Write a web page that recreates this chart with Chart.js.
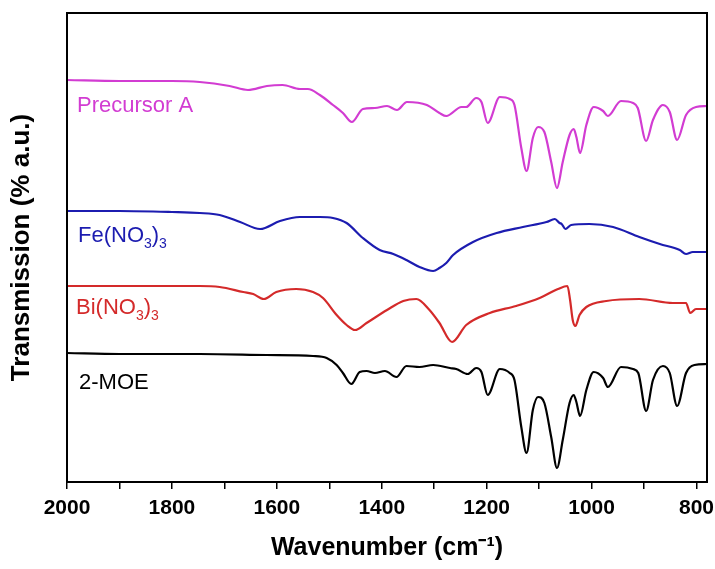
<!DOCTYPE html>
<html>
<head>
<meta charset="utf-8">
<script src="https://cdn.jsdelivr.net/npm/chart.js@4.4.1/dist/chart.umd.min.js"></script>
<style>
  body { margin: 0; background: #fff; }
  canvas { display: block; }
</style>
</head>
<body>
<canvas id="chart" width="715" height="569"></canvas>
<script>
// Wavenumbers (cm-1) and transmission (arbitrary units, offset per curve)
const precursorWn = [2000, 1900, 1800, 1747, 1690, 1655, 1619, 1589, 1556, 1541, 1518, 1493, 1474, 1457, 1436, 1413, 1390, 1371, 1352, 1314, 1290, 1277, 1248, 1239, 1220, 1210, 1198, 1175, 1156, 1147, 1134, 1124, 1112, 1102, 1090, 1077, 1066, 1055, 1042, 1034, 1029, 1022, 1010, 996, 978, 969, 944, 921, 912, 896, 883, 864, 851, 837, 820, 801, 780];
const precursorT = [402, 401, 401, 400, 396, 392, 396, 397, 393, 393, 387, 377, 369, 360, 373, 374, 376, 372, 380, 377, 369, 366, 375, 375, 384, 380, 359, 385, 383, 377, 334, 311, 344, 355, 350, 320, 294, 320, 347, 353, 345, 329, 357, 375, 371, 366, 381, 379, 374, 341, 362, 377, 370, 342, 367, 375, 376];

const feWn = [2000, 1900, 1800, 1747, 1709, 1670, 1632, 1594, 1556, 1518, 1493, 1467, 1436, 1404, 1378, 1353, 1328, 1302, 1290, 1277, 1264, 1226, 1181, 1131, 1086, 1070, 1061, 1057, 1050, 1039, 1004, 959, 909, 870, 832, 820, 807, 780];
const feT = [271, 271, 270, 269, 267, 260, 253, 261, 265, 265, 264, 259, 244, 232, 228, 222, 215, 211, 214, 219, 227, 240, 249, 255, 260, 263, 259, 258, 253, 257, 258, 255, 245, 238, 232, 228, 230, 230];

const biWn = [2000, 1900, 1800, 1747, 1709, 1664, 1645, 1625, 1601, 1563, 1531, 1512, 1486, 1467, 1451, 1429, 1390, 1359, 1334, 1309, 1290, 1266, 1239, 1194, 1144, 1099, 1064, 1046, 1041, 1036, 1031, 1023, 1010, 972, 909, 845, 820, 812, 801, 780];
const biT = [196, 196, 196, 196, 195, 190, 188, 183, 190, 193, 190, 184, 167, 157, 152, 159, 172, 181, 183, 172, 159, 140, 157, 169, 176, 184, 193, 196, 182, 162, 156, 167, 175, 181, 183, 179, 179, 169, 173, 173];

const moeWn = [2000, 1900, 1800, 1747, 1620, 1531, 1505, 1486, 1474, 1458, 1442, 1429, 1413, 1394, 1372, 1353, 1328, 1302, 1270, 1258, 1236, 1220, 1210, 1198, 1175, 1156, 1147, 1134, 1124, 1112, 1102, 1090, 1077, 1066, 1055, 1042, 1034, 1029, 1022, 1010, 996, 978, 969, 944, 921, 911, 896, 883, 864, 851, 837, 820, 804, 780];
const moeT = [129, 128, 128, 128, 127, 126, 124, 117, 109, 98, 110, 111, 109, 111, 105, 116, 115, 117, 114, 113, 108, 114, 110, 87, 113, 109, 102, 55, 29, 72, 85, 79, 45, 14, 42, 79, 87, 80, 66, 92, 110, 104, 95, 115, 113, 109, 71, 102, 116, 109, 76, 109, 117, 118];

const xTicks = [2000, 1800, 1600, 1400, 1200, 1000, 800];

const FONT = "'Liberation Sans', Arial, sans-serif";

function toPoints(wn, t) {
    return wn.map((w, i) => ({ x: w, y: t[i] }));
}

function series(label, wn, t, color) {
    return {
        label: label,
        data: toPoints(wn, t),
        borderColor: color,
        borderWidth: 2.2,
        pointRadius: 0,
        fill: false,
        tension: 0.4,
        cubicInterpolationMode: 'monotone'
    };
}

// box around the plot area
const framePlugin = {
    id: 'frame',
    afterDraw(chart) {
        const a = chart.chartArea;
        const ctx = chart.ctx;
        ctx.save();
        ctx.strokeStyle = '#000';
        ctx.lineWidth = 2;
        ctx.strokeRect(a.left, a.top, a.right - a.left, a.bottom - a.top);
        ctx.restore();
    }
};

// curve names with subscripts
const labelPlugin = {
    id: 'curveLabels',
    afterDatasetsDraw(chart) {
        const ctx = chart.ctx;
        const parts = [
            { x: 77, y: 112, color: '#d23cd2', bits: [['Precursor A', 0]] },
            { x: 78, y: 242, color: '#1c1cb0', bits: [['Fe(NO', 0], ['3', 1], [')', 0], ['3', 1]] },
            { x: 76, y: 314, color: '#d42a2a', bits: [['Bi(NO', 0], ['3', 1], [')', 0], ['3', 1]] },
            { x: 79, y: 389, color: '#000000', bits: [['2-MOE', 0]] }
        ];
        ctx.save();
        ctx.textBaseline = 'alphabetic';
        parts.forEach(p => {
            let x = p.x;
            ctx.fillStyle = p.color;
            p.bits.forEach(b => {
                ctx.font = b[1] ? '14px ' + FONT : '22px ' + FONT;
                ctx.fillText(b[0], x, p.y + (b[1] ? 6 : 0));
                x += ctx.measureText(b[0]).width;
            });
        });
        ctx.restore();
    }
};

new Chart(document.getElementById('chart'), {
    type: 'line',
    data: {
        datasets: [
            series('Precursor A', precursorWn, precursorT, '#d23cd2'),
            series('Fe(NO3)3', feWn, feT, '#1c1cb0'),
            series('Bi(NO3)3', biWn, biT, '#d42a2a'),
            series('2-MOE', moeWn, moeT, '#000000')
        ]
    },
    options: {
        responsive: false,
        animation: false,
        layout: { padding: { top: 13, right: 8, left: 0, bottom: 0 } },
        plugins: {
            legend: { display: false },
            tooltip: { enabled: false }
        },
        scales: {
            x: {
                type: 'linear',
                reverse: true,
                min: 780,
                max: 2000,
                afterFit(scale) {
                    scale.height = 87;
                    // let the 800 label hang over the right edge
                    scale.paddingLeft = 0;
                    scale.paddingRight = 0;
                },
                ticks: {
                    stepSize: 100,
                    includeBounds: false,
                    maxRotation: 0,
                    autoSkip: false,
                    padding: 7,
                    color: '#000',
                    font: { family: FONT, size: 21, weight: 'bold' },
                    callback: v => xTicks.includes(v) ? String(v) : ''
                },
                grid: { drawOnChartArea: false, tickLength: 7, color: '#000', lineWidth: 1.5 },
                border: { display: true, color: '#000', width: 2 },
                title: {
                    display: true,
                    text: 'Wavenumber (cm\u207B\u00B9)',
                    color: '#000',
                    padding: { top: 0, bottom: 6 },
                    font: { family: FONT, size: 25, weight: 'bold' }
                }
            },
            y: {
                min: 0,
                max: 469,
                afterFit(scale) { scale.width = 67; },
                ticks: { display: false },
                grid: { drawOnChartArea: false, drawTicks: false },
                border: { display: true, color: '#000', width: 2 },
                title: {
                    display: true,
                    text: 'Transmission (% a.u.)',
                    color: '#000',
                    padding: { top: 6, bottom: 0 },
                    font: { family: FONT, size: 26, weight: 'bold' }
                }
            }
        }
    },
    plugins: [framePlugin, labelPlugin]
});
</script>
</body>
</html>
